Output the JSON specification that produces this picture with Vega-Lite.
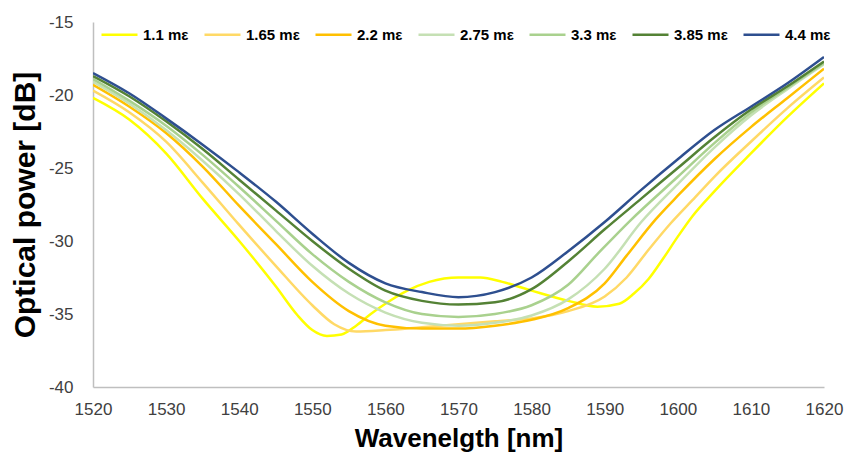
{
  "$schema": "https://vega.github.io/schema/vega-lite/v6.json",
  "width": 731,
  "height": 365,
  "autosize": {"type": "none"},
  "padding": {"left": 93, "top": 22, "right": 22, "bottom": 68},
  "background": "white",
  "config": {"view": {"stroke": null}, "font": "Liberation Sans"},
  "datasets": {
    "curves": [
      {"strain": "1.1 mε", "wavelength": 1520, "power": -20.2},
      {"strain": "1.1 mε", "wavelength": 1525, "power": -21.7},
      {"strain": "1.1 mε", "wavelength": 1530, "power": -24.0},
      {"strain": "1.1 mε", "wavelength": 1535, "power": -27.1},
      {"strain": "1.1 mε", "wavelength": 1540, "power": -30.0},
      {"strain": "1.1 mε", "wavelength": 1545, "power": -33.1},
      {"strain": "1.1 mε", "wavelength": 1548, "power": -35.1},
      {"strain": "1.1 mε", "wavelength": 1550, "power": -36.1},
      {"strain": "1.1 mε", "wavelength": 1552, "power": -36.5},
      {"strain": "1.1 mε", "wavelength": 1554, "power": -36.4},
      {"strain": "1.1 mε", "wavelength": 1556, "power": -35.8},
      {"strain": "1.1 mε", "wavelength": 1558, "power": -35.0},
      {"strain": "1.1 mε", "wavelength": 1560, "power": -34.3},
      {"strain": "1.1 mε", "wavelength": 1563, "power": -33.4},
      {"strain": "1.1 mε", "wavelength": 1566, "power": -32.8},
      {"strain": "1.1 mε", "wavelength": 1570, "power": -32.5},
      {"strain": "1.1 mε", "wavelength": 1573, "power": -32.5},
      {"strain": "1.1 mε", "wavelength": 1576, "power": -32.8},
      {"strain": "1.1 mε", "wavelength": 1580, "power": -33.4},
      {"strain": "1.1 mε", "wavelength": 1585, "power": -34.1},
      {"strain": "1.1 mε", "wavelength": 1589, "power": -34.5},
      {"strain": "1.1 mε", "wavelength": 1592, "power": -34.3},
      {"strain": "1.1 mε", "wavelength": 1594, "power": -33.6},
      {"strain": "1.1 mε", "wavelength": 1596, "power": -32.6},
      {"strain": "1.1 mε", "wavelength": 1598, "power": -31.2},
      {"strain": "1.1 mε", "wavelength": 1600, "power": -29.7},
      {"strain": "1.1 mε", "wavelength": 1602, "power": -28.3},
      {"strain": "1.1 mε", "wavelength": 1605, "power": -26.6},
      {"strain": "1.1 mε", "wavelength": 1610, "power": -24.0},
      {"strain": "1.1 mε", "wavelength": 1615, "power": -21.5},
      {"strain": "1.1 mε", "wavelength": 1620, "power": -19.2},

      {"strain": "1.65 mε", "wavelength": 1520, "power": -19.7},
      {"strain": "1.65 mε", "wavelength": 1525, "power": -21.2},
      {"strain": "1.65 mε", "wavelength": 1530, "power": -23.2},
      {"strain": "1.65 mε", "wavelength": 1535, "power": -26.0},
      {"strain": "1.65 mε", "wavelength": 1540, "power": -28.9},
      {"strain": "1.65 mε", "wavelength": 1545, "power": -31.7},
      {"strain": "1.65 mε", "wavelength": 1550, "power": -34.4},
      {"strain": "1.65 mε", "wavelength": 1553, "power": -35.7},
      {"strain": "1.65 mε", "wavelength": 1556, "power": -36.2},
      {"strain": "1.65 mε", "wavelength": 1560, "power": -36.1},
      {"strain": "1.65 mε", "wavelength": 1565, "power": -35.9},
      {"strain": "1.65 mε", "wavelength": 1570, "power": -35.7},
      {"strain": "1.65 mε", "wavelength": 1575, "power": -35.5},
      {"strain": "1.65 mε", "wavelength": 1580, "power": -35.3},
      {"strain": "1.65 mε", "wavelength": 1585, "power": -34.8},
      {"strain": "1.65 mε", "wavelength": 1590, "power": -33.8},
      {"strain": "1.65 mε", "wavelength": 1593, "power": -32.5},
      {"strain": "1.65 mε", "wavelength": 1596, "power": -30.6},
      {"strain": "1.65 mε", "wavelength": 1599, "power": -28.8},
      {"strain": "1.65 mε", "wavelength": 1602, "power": -27.2},
      {"strain": "1.65 mε", "wavelength": 1605, "power": -25.6},
      {"strain": "1.65 mε", "wavelength": 1610, "power": -23.2},
      {"strain": "1.65 mε", "wavelength": 1615, "power": -20.9},
      {"strain": "1.65 mε", "wavelength": 1620, "power": -18.8},

      {"strain": "2.2 mε", "wavelength": 1520, "power": -19.3},
      {"strain": "2.2 mε", "wavelength": 1525, "power": -20.8},
      {"strain": "2.2 mε", "wavelength": 1530, "power": -22.6},
      {"strain": "2.2 mε", "wavelength": 1535, "power": -24.9},
      {"strain": "2.2 mε", "wavelength": 1540, "power": -27.6},
      {"strain": "2.2 mε", "wavelength": 1545, "power": -30.2},
      {"strain": "2.2 mε", "wavelength": 1550, "power": -32.8},
      {"strain": "2.2 mε", "wavelength": 1555, "power": -34.8},
      {"strain": "2.2 mε", "wavelength": 1560, "power": -35.8},
      {"strain": "2.2 mε", "wavelength": 1565, "power": -36.0},
      {"strain": "2.2 mε", "wavelength": 1570, "power": -36.0},
      {"strain": "2.2 mε", "wavelength": 1575, "power": -35.8},
      {"strain": "2.2 mε", "wavelength": 1580, "power": -35.4},
      {"strain": "2.2 mε", "wavelength": 1585, "power": -34.6},
      {"strain": "2.2 mε", "wavelength": 1590, "power": -32.9},
      {"strain": "2.2 mε", "wavelength": 1593, "power": -31.0},
      {"strain": "2.2 mε", "wavelength": 1597, "power": -28.5},
      {"strain": "2.2 mε", "wavelength": 1600, "power": -26.9},
      {"strain": "2.2 mε", "wavelength": 1605, "power": -24.4},
      {"strain": "2.2 mε", "wavelength": 1610, "power": -22.2},
      {"strain": "2.2 mε", "wavelength": 1615, "power": -20.2},
      {"strain": "2.2 mε", "wavelength": 1620, "power": -18.2},

      {"strain": "2.75 mε", "wavelength": 1520, "power": -19.1},
      {"strain": "2.75 mε", "wavelength": 1525, "power": -20.6},
      {"strain": "2.75 mε", "wavelength": 1530, "power": -22.4},
      {"strain": "2.75 mε", "wavelength": 1535, "power": -24.5},
      {"strain": "2.75 mε", "wavelength": 1540, "power": -26.8},
      {"strain": "2.75 mε", "wavelength": 1545, "power": -29.3},
      {"strain": "2.75 mε", "wavelength": 1550, "power": -31.7},
      {"strain": "2.75 mε", "wavelength": 1555, "power": -33.6},
      {"strain": "2.75 mε", "wavelength": 1560, "power": -34.9},
      {"strain": "2.75 mε", "wavelength": 1565, "power": -35.6},
      {"strain": "2.75 mε", "wavelength": 1570, "power": -35.8},
      {"strain": "2.75 mε", "wavelength": 1575, "power": -35.6},
      {"strain": "2.75 mε", "wavelength": 1580, "power": -35.1},
      {"strain": "2.75 mε", "wavelength": 1585, "power": -34.0},
      {"strain": "2.75 mε", "wavelength": 1590, "power": -31.9},
      {"strain": "2.75 mε", "wavelength": 1595, "power": -28.7},
      {"strain": "2.75 mε", "wavelength": 1600, "power": -26.1},
      {"strain": "2.75 mε", "wavelength": 1605, "power": -23.6},
      {"strain": "2.75 mε", "wavelength": 1610, "power": -21.4},
      {"strain": "2.75 mε", "wavelength": 1615, "power": -19.6},
      {"strain": "2.75 mε", "wavelength": 1620, "power": -17.9},

      {"strain": "3.3 mε", "wavelength": 1520, "power": -18.9},
      {"strain": "3.3 mε", "wavelength": 1525, "power": -20.4},
      {"strain": "3.3 mε", "wavelength": 1530, "power": -22.1},
      {"strain": "3.3 mε", "wavelength": 1535, "power": -24.1},
      {"strain": "3.3 mε", "wavelength": 1540, "power": -26.3},
      {"strain": "3.3 mε", "wavelength": 1545, "power": -28.6},
      {"strain": "3.3 mε", "wavelength": 1550, "power": -30.9},
      {"strain": "3.3 mε", "wavelength": 1555, "power": -32.8},
      {"strain": "3.3 mε", "wavelength": 1560, "power": -34.2},
      {"strain": "3.3 mε", "wavelength": 1565, "power": -35.0},
      {"strain": "3.3 mε", "wavelength": 1570, "power": -35.2},
      {"strain": "3.3 mε", "wavelength": 1575, "power": -35.0},
      {"strain": "3.3 mε", "wavelength": 1580, "power": -34.4},
      {"strain": "3.3 mε", "wavelength": 1585, "power": -33.0},
      {"strain": "3.3 mε", "wavelength": 1589, "power": -30.9},
      {"strain": "3.3 mε", "wavelength": 1593.5, "power": -28.6},
      {"strain": "3.3 mε", "wavelength": 1600, "power": -25.6},
      {"strain": "3.3 mε", "wavelength": 1605, "power": -23.3},
      {"strain": "3.3 mε", "wavelength": 1610, "power": -21.2},
      {"strain": "3.3 mε", "wavelength": 1615, "power": -19.5},
      {"strain": "3.3 mε", "wavelength": 1620, "power": -17.8},

      {"strain": "3.85 mε", "wavelength": 1520, "power": -18.7},
      {"strain": "3.85 mε", "wavelength": 1525, "power": -20.1},
      {"strain": "3.85 mε", "wavelength": 1530, "power": -21.8},
      {"strain": "3.85 mε", "wavelength": 1535, "power": -23.7},
      {"strain": "3.85 mε", "wavelength": 1540, "power": -25.8},
      {"strain": "3.85 mε", "wavelength": 1545, "power": -27.9},
      {"strain": "3.85 mε", "wavelength": 1550, "power": -30.0},
      {"strain": "3.85 mε", "wavelength": 1555, "power": -31.9},
      {"strain": "3.85 mε", "wavelength": 1560, "power": -33.4},
      {"strain": "3.85 mε", "wavelength": 1565, "power": -34.1},
      {"strain": "3.85 mε", "wavelength": 1570, "power": -34.35},
      {"strain": "3.85 mε", "wavelength": 1575, "power": -34.2},
      {"strain": "3.85 mε", "wavelength": 1580, "power": -33.3},
      {"strain": "3.85 mε", "wavelength": 1585, "power": -31.4},
      {"strain": "3.85 mε", "wavelength": 1590, "power": -29.2},
      {"strain": "3.85 mε", "wavelength": 1595, "power": -27.1},
      {"strain": "3.85 mε", "wavelength": 1600, "power": -25.0},
      {"strain": "3.85 mε", "wavelength": 1605, "power": -22.9},
      {"strain": "3.85 mε", "wavelength": 1610, "power": -21.0},
      {"strain": "3.85 mε", "wavelength": 1615, "power": -19.4},
      {"strain": "3.85 mε", "wavelength": 1620, "power": -17.7},

      {"strain": "4.4 mε", "wavelength": 1520, "power": -18.5},
      {"strain": "4.4 mε", "wavelength": 1525, "power": -19.9},
      {"strain": "4.4 mε", "wavelength": 1530, "power": -21.6},
      {"strain": "4.4 mε", "wavelength": 1535, "power": -23.4},
      {"strain": "4.4 mε", "wavelength": 1540, "power": -25.3},
      {"strain": "4.4 mε", "wavelength": 1545, "power": -27.3},
      {"strain": "4.4 mε", "wavelength": 1550, "power": -29.5},
      {"strain": "4.4 mε", "wavelength": 1555, "power": -31.5},
      {"strain": "4.4 mε", "wavelength": 1560, "power": -32.9},
      {"strain": "4.4 mε", "wavelength": 1565, "power": -33.5},
      {"strain": "4.4 mε", "wavelength": 1570, "power": -33.85},
      {"strain": "4.4 mε", "wavelength": 1575, "power": -33.5},
      {"strain": "4.4 mε", "wavelength": 1580, "power": -32.5},
      {"strain": "4.4 mε", "wavelength": 1585, "power": -30.7},
      {"strain": "4.4 mε", "wavelength": 1590, "power": -28.7},
      {"strain": "4.4 mε", "wavelength": 1595, "power": -26.5},
      {"strain": "4.4 mε", "wavelength": 1600, "power": -24.4},
      {"strain": "4.4 mε", "wavelength": 1605, "power": -22.4},
      {"strain": "4.4 mε", "wavelength": 1610, "power": -20.8},
      {"strain": "4.4 mε", "wavelength": 1615, "power": -19.2},
      {"strain": "4.4 mε", "wavelength": 1620, "power": -17.4}
    ]
  },
  "data": {"name": "curves"},
  "mark": {"type": "line", "strokeWidth": 2.5, "interpolate": "monotone", "clip": true},
  "encoding": {
    "x": {
      "field": "wavelength",
      "type": "quantitative",
      "scale": {"domain": [1520, 1620], "nice": false, "zero": false},
      "axis": {
        "values": [1520, 1530, 1540, 1550, 1560, 1570, 1580, 1590, 1600, 1610, 1620],
        "format": "d",
        "title": "Wavenelgth [nm]",
        "grid": false,
        "ticks": false,
        "tickSize": 0,
        "domainColor": "#bfbfbf",
        "domainWidth": 1.5,
        "labelFont": "Liberation Sans",
        "labelFontSize": 17,
        "labelColor": "#404040",
        "labelPadding": 14,
        "labelFlush": false,
        "titleFont": "Liberation Sans",
        "titleFontSize": 26,
        "titleFontWeight": "bold",
        "titleColor": "#000000",
        "titlePadding": 8
      }
    },
    "y": {
      "field": "power",
      "type": "quantitative",
      "scale": {"domain": [-40, -15], "nice": false, "zero": false},
      "axis": {
        "values": [-40, -35, -30, -25, -20, -15],
        "labelExpr": "'' + datum.value",
        "title": "Optical power [dB]",
        "grid": false,
        "ticks": false,
        "tickSize": 0,
        "domainColor": "#bfbfbf",
        "domainWidth": 1.5,
        "labelFont": "Liberation Sans",
        "labelFontSize": 17,
        "labelColor": "#404040",
        "labelPadding": 20,
        "titleFont": "Liberation Sans",
        "titleFontSize": 30,
        "titleFontWeight": "bold",
        "titleColor": "#000000",
        "titlePadding": 8
      }
    },
    "color": {
      "field": "strain",
      "type": "nominal",
      "scale": {
        "domain": ["1.1 mε", "1.65 mε", "2.2 mε", "2.75 mε", "3.3 mε", "3.85 mε", "4.4 mε"],
        "range": ["#FFFF00", "#FFD966", "#FFC000", "#C5E0B4", "#A9D18E", "#548235", "#2E4F8F"]
      },
      "legend": {
        "orient": "none",
        "legendX": 7,
        "legendY": -7,
        "direction": "horizontal",
        "title": null,
        "symbolType": "stroke",
        "symbolSize": 1296,
        "symbolStrokeWidth": 2.5,
        "labelFont": "Liberation Sans",
        "labelFontSize": 15,
        "labelFontWeight": "bold",
        "labelColor": "#000000",
        "labelOffset": 4,
        "columnPadding": 10
      }
    }
  }
}
